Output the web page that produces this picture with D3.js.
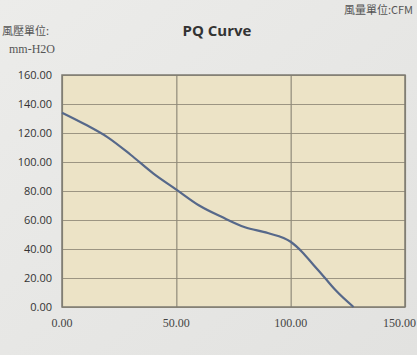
<!DOCTYPE html>
<html>
<head>
<meta charset="utf-8">
<script src="https://cdn.jsdelivr.net/npm/d3@7"></script>
<style>
body { margin: 0; background: #e9e9e7; }
svg { display: block; }
</style>
</head>
<body>
<div id="chart"></div>
<script>
var width = 417,
height = 355;

// PQ curve (CFM vs mm-H2O)
var flow =     [0, 10, 20, 30, 40, 50, 60, 70, 80, 90, 100, 105, 110, 115, 120, 127.5];
var pressure = [134, 126, 117, 105, 92, 81, 70, 62, 55, 51, 45, 38, 29, 20, 11, 0];

var xTicks = [0, 50, 100, 150];
var yTicks = [0, 20, 40, 60, 80, 100, 120, 140, 160];

var margin = { left: 62, right: 12, top: 75, bottom: 48 };

var svg = d3.select("#chart")
.append("svg")
.attr("width", width)
.attr("height", height);

// paper background
var grad = svg.append("defs").append("linearGradient")
.attr("id", "paper")
.attr("x1", 0).attr("y1", 0).attr("x2", 1).attr("y2", 1);
grad.append("stop").attr("offset", "0%").attr("stop-color", "#ececea");
grad.append("stop").attr("offset", "100%").attr("stop-color", "#e2e2e0");

svg.append("rect")
.attr("width", width)
.attr("height", height)
.attr("fill", "url(#paper)");

var xScale = d3.scaleLinear()
.domain([0, 150])
.range([margin.left, width - margin.right]);

var yScale = d3.scaleLinear()
.domain([0, 160])
.range([height - margin.bottom, margin.top]);

// plot area
svg.append("rect")
.attr("x", xScale(0))
.attr("y", yScale(160))
.attr("width", xScale(150) - xScale(0))
.attr("height", yScale(0) - yScale(160))
.attr("fill", "#ece3c6");

// horizontal gridlines
svg.append("g")
.attr("transform", "translate(" + xScale(0) + ",0)")
.call(d3.axisLeft(yScale)
	.tickValues(yTicks)
	.tickSize(-(xScale(150) - xScale(0)))
	.tickFormat(""))
.call(g => g.select(".domain").remove())
.selectAll("line")
.attr("stroke", "#9c9582")
.attr("stroke-width", 1.2);

// vertical gridlines
svg.append("g")
.attr("transform", "translate(0," + yScale(0) + ")")
.call(d3.axisBottom(xScale)
	.tickValues(xTicks)
	.tickSize(-(yScale(0) - yScale(160)))
	.tickFormat(""))
.call(g => g.select(".domain").remove())
.selectAll("line")
.attr("stroke", "#8f8a7a")
.attr("stroke-width", 1.2);

// frame
svg.append("rect")
.attr("x", xScale(0))
.attr("y", yScale(160))
.attr("width", xScale(150) - xScale(0))
.attr("height", yScale(0) - yScale(160))
.attr("fill", "none")
.attr("stroke", "#7e7b72")
.attr("stroke-width", 1.5);

// y tick labels
svg.append("g")
.selectAll("text")
.data(yTicks)
.enter()
.append("text")
.attr("x", 52)
.attr("y", d => yScale(d) + 4)
.attr("text-anchor", "end")
.attr("font-family", "Open Sans, sans-serif")
.attr("font-size", 11)
.attr("fill", "#333")
.text(d => d3.format(".2f")(d));

// x tick labels (last one pinned to the right edge)
svg.append("g")
.selectAll("text")
.data(xTicks)
.enter()
.append("text")
.attr("x", d => d === 150 ? width - 1 : xScale(d))
.attr("y", 327)
.attr("text-anchor", d => d === 150 ? "end" : "middle")
.attr("font-family", "Liberation Serif, serif")
.attr("font-size", 12)
.attr("fill", "#444")
.text(d => d3.format(".2f")(d));

// curve
var line = d3.line()
.x((d, i) => xScale(flow[i]))
.y(d => yScale(d))
.curve(d3.curveMonotoneX);

svg.append("path")
.attr("d", line(pressure))
.attr("fill", "none")
.attr("stroke", "#56688a")
.attr("stroke-width", 2.2);

// title and unit labels
svg.append("text")
.attr("x", 217)
.attr("y", 36)
.attr("text-anchor", "middle")
.attr("font-family", "Open Sans, sans-serif")
.attr("font-weight", "bold")
.attr("font-size", 15)
.attr("fill", "#333")
.text("PQ Curve");

svg.append("text")
.attr("x", 413)
.attr("y", 14)
.attr("text-anchor", "end")
.attr("font-family", "Noto Sans CJK TC, serif")
.attr("font-size", 11)
.attr("fill", "#555")
.text("風量單位:CFM");

svg.append("text")
.attr("x", 2)
.attr("y", 35)
.attr("font-family", "Noto Sans CJK TC, serif")
.attr("font-size", 11)
.attr("fill", "#555")
.text("風壓單位:");

svg.append("text")
.attr("x", 9)
.attr("y", 53)
.attr("font-family", "Liberation Serif, serif")
.attr("font-size", 12)
.attr("fill", "#555")
.text("mm-H2O");
</script>
</body>
</html>
